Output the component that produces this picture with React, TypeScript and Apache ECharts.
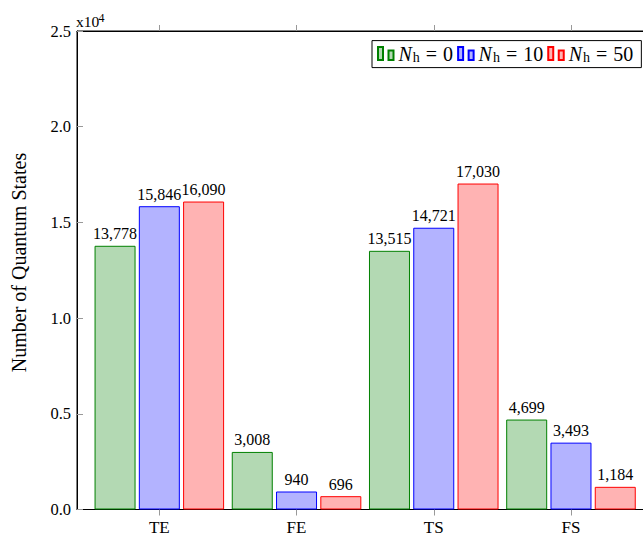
import React, { useEffect, useRef } from "react";
import * as echarts from "echarts";

const categories = ["TE", "FE", "TS", "FS"];
const seriesNames = ["N0", "N10", "N50"];
const legendValues = ["0", "10", "50"];
const valuesN0 = [13778, 3008, 13515, 4699];
const valuesN10 = [15846, 940, 14721, 3493];
const valuesN50 = [16090, 696, 17030, 1184];
const yTicks = [0, 5000, 10000, 15000, 20000, 25000];

const FONT = "Liberation Serif";
const fills = ["#b3d9b3", "#b3b3ff", "#ffb3b3"];
const strokes = ["#008000", "#0000ff", "#ff0000"];

export default function App() {
  const ref = useRef<HTMLDivElement>(null);
  useEffect(() => {
    if (!ref.current) return;
    const chart = echarts.init(ref.current, undefined, { renderer: "svg" });
    const all = [valuesN0, valuesN10, valuesN50];
    const catIdx = categories.map((_, i) => i);
    const series = all.map((vals, s) => ({
      name: seriesNames[s],
      type: "bar",
      xAxisIndex: 0,
      barWidth: 41,
      barGap: "8%",
      data: vals.map((v, i) => [catIdx[i], v]),
      itemStyle: { color: fills[s], borderColor: strokes[s], borderWidth: 1 },
      label: {
        show: true,
        position: "top",
        distance: 4,
        color: "#000",
        fontFamily: FONT,
        fontSize: 16,
        formatter: (p: any) => Number(p.value[1]).toLocaleString("en-US"),
      },
    }));
    const legendIcon = "path://M0,0H5V13H0Z M10.5,3.5H15.5V13H10.5Z";
    const big = { fontSize: 20, fontFamily: FONT, lineHeight: 22, color: "#000" };
    chart.setOption({
      animation: false,
      textStyle: { fontFamily: FONT },
      grid: {
        left: 77,
        top: 31,
        width: 576.3,
        height: 478.5,
        outerBoundsMode: "none",
        containLabel: false,
        show: true,
        borderColor: "#000",
        borderWidth: 1,
        backgroundColor: "transparent",
      },
      legend: {
        left: 372,
        top: 40.6,
        orient: "horizontal",
        selectedMode: false,
        itemWidth: 15.5,
        itemHeight: 13,
        itemGap: 4,
        padding: [3, 8, 3, 5],
        borderColor: "#000",
        borderWidth: 1,
        backgroundColor: "#fff",
        data: seriesNames.map((n) => ({ name: n, icon: legendIcon })),
        formatter: (name: string) => {
          const i = seriesNames.indexOf(name);
          return "{it|N}{sub|h}{eq|=}{t|" + legendValues[i] + "}";
        },
        textStyle: {
          color: "#000",
          fontFamily: FONT,
          rich: {
            it: { ...big, fontStyle: "italic", padding: [0, 1, 0, 0] },
            sub: { fontSize: 14, fontFamily: FONT, lineHeight: 14, verticalAlign: "bottom", color: "#000" },
            eq: { ...big, padding: [0, 6, 0, 6] },
            t: { ...big },
          },
        },
      },
      xAxis: [
        {
          type: "value",
          position: "bottom",
          min: -0.6,
          max: 3.6,
          splitLine: { show: false },
          axisLine: { show: true, onZero: false, lineStyle: { color: "#000", width: 1 } },
          axisTick: {
            show: true,
            inside: false,
            length: 6,
            customValues: catIdx,
            lineStyle: { color: "#999", width: 1 },
          },
          axisLabel: {
            show: true,
            customValues: catIdx,
            margin: 9,
            color: "#000",
            fontFamily: FONT,
            fontSize: 17,
            formatter: (v: number) => categories[Math.round(v)] ?? "",
          },
        },
        {
          type: "value",
          position: "top",
          min: -0.6,
          max: 3.6,
          splitLine: { show: false },
          axisLine: { show: true, onZero: false, lineStyle: { color: "#000", width: 1 } },
          axisTick: {
            show: true,
            inside: false,
            length: 6,
            customValues: catIdx,
            lineStyle: { color: "#999", width: 1 },
          },
          axisLabel: { show: false },
        },
      ],
      yAxis: {
        type: "value",
        min: 0,
        max: 25000,
        interval: 5000,
        splitLine: { show: false },
        axisLine: { show: true, onZero: false, lineStyle: { color: "#000", width: 1 } },
        axisTick: { show: true, inside: true, length: 6, lineStyle: { color: "#999", width: 1 } },
        axisLabel: {
          margin: 6,
          color: "#000",
          fontFamily: FONT,
          fontSize: 16.5,
          formatter: (v: number) => (yTicks.includes(v) ? (v / 10000).toFixed(1) : ""),
        },
      },
      graphic: [
        {
          type: "text",
          x: 18.5,
          y: 262.5,
          rotation: Math.PI / 2,
          style: {
            text: "Number of Quantum States",
            fontFamily: FONT,
            fontSize: 20,
            fill: "#000",
            align: "center",
            verticalAlign: "middle",
          },
        },
        {
          type: "text",
          x: 76,
          y: 21.5,
          style: {
            text: "x10",
            fontFamily: FONT,
            fontSize: 15.5,
            fill: "#000",
            align: "left",
            verticalAlign: "middle",
          },
        },
        {
          type: "text",
          x: 98.5,
          y: 17.5,
          style: {
            text: "4",
            fontFamily: FONT,
            fontSize: 12,
            fill: "#000",
            align: "left",
            verticalAlign: "middle",
          },
        },
      ],
      series,
    });
    return () => chart.dispose();
  }, []);
  return (
    <div
      ref={ref}
      style={{ position: "fixed", left: 0, top: 0, width: 643, height: 536, background: "#fff" }}
    />
  );
}
